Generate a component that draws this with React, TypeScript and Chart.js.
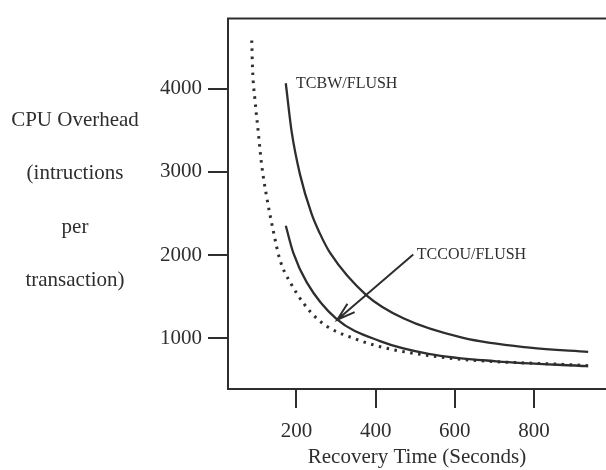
import React, { useEffect, useRef } from 'react';
import { Chart, registerables } from 'chart.js';
Chart.register(...registerables);

const FONT = "'Liberation Serif', 'Times New Roman', serif";
const INK = '#2e2e2e';

// tick values
const xTicks = [200, 400, 600, 800];
const yTicks = [1000, 2000, 3000, 4000];

// axis titles / labels
const yTitleLines = ['CPU Overhead', '(intructions', 'per', 'transaction)'];
const xTitle = 'Recovery Time (Seconds)';
const labelTCBW = 'TCBW/FLUSH';
const labelTCCOU = 'TCCOU/FLUSH';

// series: TCBW/FLUSH (upper solid)
const tcbwX = [173, 188, 209, 238, 259, 285, 377, 470, 621, 789, 937];
const tcbwY = [4066, 3478, 2968, 2498, 2262, 2027, 1518, 1242, 1007, 889, 839];

// series: TCCOU/FLUSH (lower solid)
const tccouX = [173, 192, 226, 301, 411, 537, 706, 937];
const tccouY = [2353, 2027, 1674, 1235, 968, 812, 725, 666];

// series: dotted (unlabelled)
const flushX = [87, 89, 95, 103.5, 112, 125, 141, 158, 184, 251, 352, 537, 937];
const flushY = [4580, 4242, 3871, 3478, 3086, 2694, 2301, 1948, 1674, 1242, 988, 792, 672];

// annotation anchors (data coordinates)
const tcbwLabelAt = { x: 199, y: 4062 };
const tccouLabelAt = { x: 504, y: 2004 };
const arrowFrom = { x: 495, y: 2007 };
const arrowTo = { x: 303, y: 1224 };

const toPts = (xs: number[], ys: number[]) => xs.map((x, i) => ({ x, y: ys[i] }));

export default function App() {
  const ref = useRef<HTMLCanvasElement>(null);
  useEffect(() => {
    document.body.style.margin = '0';
    const canvas = ref.current!;
    const annot = {
      id: 'annot',
      afterDatasetsDraw(chart: any) {
        const { ctx, chartArea, scales } = chart;
        const xs = scales.x;
        const ys = scales.y;
        ctx.save();
        // top frame line
        ctx.strokeStyle = INK;
        ctx.lineWidth = 2;
        ctx.beginPath();
        ctx.moveTo(chartArea.left - 1, chartArea.top);
        ctx.lineTo(chartArea.right, chartArea.top);
        ctx.stroke();
        // y title lines
        ctx.fillStyle = INK;
        ctx.font = `21px ${FONT}`;
        ctx.textAlign = 'center';
        ctx.textBaseline = 'middle';
        const yLinePos = [120, 173, 227, 280];
        yTitleLines.forEach((t, i) => ctx.fillText(t, 75, yLinePos[i]));
        // curve labels
        ctx.font = `16px ${FONT}`;
        ctx.textAlign = 'left';
        ctx.fillText(labelTCBW, xs.getPixelForValue(tcbwLabelAt.x), ys.getPixelForValue(tcbwLabelAt.y));
        ctx.fillText(labelTCCOU, xs.getPixelForValue(tccouLabelAt.x), ys.getPixelForValue(tccouLabelAt.y));
        // arrow
        const x0 = xs.getPixelForValue(arrowFrom.x);
        const y0 = ys.getPixelForValue(arrowFrom.y);
        const x1 = xs.getPixelForValue(arrowTo.x);
        const y1 = ys.getPixelForValue(arrowTo.y);
        ctx.lineWidth = 2;
        ctx.beginPath();
        ctx.moveTo(x0, y0);
        ctx.lineTo(x1, y1);
        const ang = Math.atan2(y0 - y1, x0 - x1);
        const L = 19;
        const spread = (17 * Math.PI) / 180;
        ctx.moveTo(x1 + L * Math.cos(ang - spread), y1 + L * Math.sin(ang - spread));
        ctx.lineTo(x1, y1);
        ctx.lineTo(x1 + L * Math.cos(ang + spread), y1 + L * Math.sin(ang + spread));
        ctx.stroke();
        ctx.restore();
      },
    };

    const chart = new Chart(canvas, {
      type: 'line',
      data: {
        datasets: [
          {
            label: labelTCBW,
            data: toPts(tcbwX, tcbwY),
            borderColor: INK,
            borderWidth: 2.3,
            pointRadius: 0,
            cubicInterpolationMode: 'monotone',
          },
          {
            label: labelTCCOU,
            data: toPts(tccouX, tccouY),
            borderColor: INK,
            borderWidth: 2.3,
            pointRadius: 0,
            cubicInterpolationMode: 'monotone',
          },
          {
            label: 'dotted',
            data: toPts(flushX, flushY),
            borderColor: INK,
            borderWidth: 3,
            borderDash: [2.5, 5.5],
            pointRadius: 0,
            cubicInterpolationMode: 'monotone',
          },
        ],
      },
      options: {
        animation: false,
        responsive: false,
        devicePixelRatio: 1,
        layout: { padding: { top: 11, left: 0, right: 0, bottom: 0 } },
        plugins: { legend: { display: false }, tooltip: { enabled: false } },
        scales: {
          x: {
            type: 'linear',
            min: 27,
            max: 982,
            afterBuildTicks: (s: any) => {
              s.ticks = xTicks.map((v) => ({ value: v }));
            },
            afterFit: (s: any) => {
              s.height = 81;
            },
            grid: { drawOnChartArea: false, drawTicks: true, tickLength: 19, color: INK, lineWidth: 2 },
            border: { display: true, color: INK, width: 2 },
            ticks: {
              color: INK,
              font: { family: FONT, size: 21 },
              padding: 11,
              maxRotation: 0,
              callback: (v: any) => String(v),
            },
            title: { display: true, text: xTitle, color: INK, font: { family: FONT, size: 21 }, padding: { top: 0, bottom: 0 } },
          },
          y: {
            type: 'linear',
            min: 392,
            max: 4843,
            afterBuildTicks: (s: any) => {
              s.ticks = yTicks.map((v) => ({ value: v }));
            },
            afterFit: (s: any) => {
              s.width = 228;
            },
            grid: { drawOnChartArea: false, drawTicks: true, tickLength: 20, color: INK, lineWidth: 2 },
            border: { display: true, color: INK, width: 2 },
            ticks: { color: INK, font: { family: FONT, size: 21 }, padding: 6, callback: (v: any) => String(v) },
          },
        },
      },
      plugins: [annot],
    } as any);
    return () => chart.destroy();
  }, []);
  return <canvas ref={ref} width={606} height={470} style={{ display: 'block' }} />;
}
